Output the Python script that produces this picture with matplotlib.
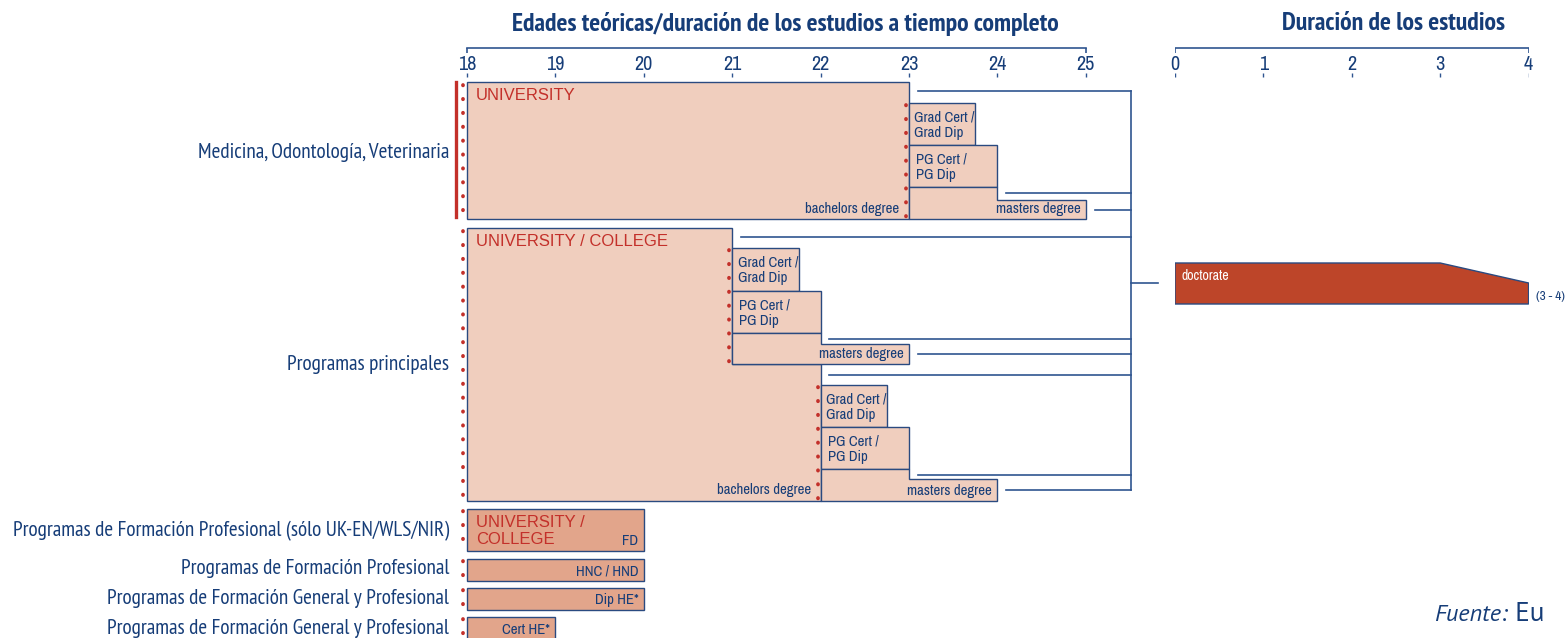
import matplotlib
matplotlib.use("Agg")
import matplotlib.pyplot as plt
from matplotlib.patches import Polygon, Rectangle

# --- data -------------------------------------------------------------
age_ticks = [18, 19, 20, 21, 22, 23, 24, 25]
dur_ticks = [0, 1, 2, 3, 4]

row_labels = ["Medicina, Odontología, Veterinaria",
              "Programas principales",
              "Programas de Formación Profesional (sólo UK-EN/WLS/NIR)",
              "Programas de Formación Profesional",
              "Programas de Formación General y Profesional",
              "Programas de Formación General y Profesional"]

start_age = 18
med_bachelor = 5            # years
main_bachelor = [3, 4]      # 3 or 4 year bachelors
grad_dur = 0.75             # Grad Cert / Grad Dip
pg_dur = 1                  # PG Cert / PG Dip
masters_dur = 2             # masters degree

short_names = ["FD", "HNC / HND", "Dip HE*", "Cert HE*"]
short_durations = [2, 2, 2, 1]

doc_min, doc_max = 3, 4

# --- style ------------------------------------------------------------
NAVY = "#163d78"
LINE = "#2f5590"
EDGE = "#2a4a80"
RED = "#c3302a"
LIGHT = "#f0cebe"
DARK = "#e2a58b"
DOC = "#bd4529"

COND = ["PT Sans Narrow", "Fira Sans Condensed", "Roboto Condensed", "DejaVu Sans"]
NARROW = ["Archivo Narrow", "Roboto Condensed", "Liberation Sans Narrow", "DejaVu Sans"]
PLAIN = ["Liberation Sans", "Arimo", "DejaVu Sans"]
SRC = ["PT Sans", "Fira Sans", "DejaVu Sans"]

W, H = 1565, 638
PX = 88.4          # pixels per year
X18 = 467          # pixel of age 18

fig = plt.figure(figsize=(W / 100, H / 100), dpi=100)
ax = fig.add_axes([0, 0, 1, 1])
ax.set_xlim(start_age - X18 / PX, start_age + (W - X18) / PX)
ax.set_ylim(H, 0)
ax.axis("off")

D0 = 1175
ax2 = fig.add_axes([D0 / W, 0, 4 * PX / W, 1])
ax2.set_xlim(0, 4)
ax2.set_ylim(H, 0)
ax2.axis("off")
ax2.patch.set_alpha(0)

small = dict(family=NARROW, fontsize=10.7, color=NAVY)
redtxt = dict(family=PLAIN, fontsize=12, color=RED)


def dots(a, x, y0, y1):
    a.plot([x, x], [y0, y1], color=RED, lw=2.7, ls=(0, (0.1, 3.6)),
           dash_capstyle="round", solid_capstyle="round")


def box(x0, x1, y0, y1, fc=LIGHT):
    ax.add_patch(Rectangle((x0, y0), x1 - x0, y1 - y0, fc=fc, ec=EDGE, lw=1))


def pg_stack(x0, gt, gb, pb, step, bottom):
    box(x0, x0 + grad_dur, gt, gb)
    ax.text(x0 + 0.06, (gt + gb) / 2 + 1, "Grad Cert /\nGrad Dip", va="center",
            linespacing=1.15, **small)
    box(x0, x0 + pg_dur, gb, pb)
    ax.text(x0 + 0.08, (gb + pb) / 2 + 1, "PG Cert /\nPG Dip", va="center",
            linespacing=1.15, **small)
    ax.add_patch(Polygon([(x0, pb), (x0 + pg_dur, pb), (x0 + pg_dur, step),
                          (x0 + masters_dur, step), (x0 + masters_dur, bottom),
                          (x0, bottom)], closed=True, fc=LIGHT, ec=EDGE, lw=1))
    ax.text(x0 + masters_dur - 0.06, bottom - 10, "masters degree", ha="right",
            va="center", **small)
    dots(ax, x0 - 0.035, gt + 2, bottom - 2)
    # ends that link to the right bracket
    return [(x0 + pg_dur, pb + 6), (x0 + masters_dur, (step + bottom) / 2)]


bracket_x = start_age + (1131 - X18) / PX
links = []

# --- top axes ---------------------------------------------------------
ax.plot([age_ticks[0], age_ticks[-1]], [48, 48], color=LINE, lw=1.2)
ax.vlines([age_ticks[0], age_ticks[-1]], 48, 53, color=LINE, lw=1.2)
ax.vlines(age_ticks, 73, 77, color=LINE, lw=1)
for t in age_ticks:
    ax.text(t, 64, str(t), ha="center", va="center", family=NARROW,
            fontsize=14.5, color=NAVY)
ax.text(start_age + (785 - X18) / PX, 24,
        "Edades teóricas/duración de los estudios a tiempo completo",
        ha="center", va="center", family=COND, fontsize=18.5,
        fontweight="bold", color=NAVY)

ax2.plot([dur_ticks[0], dur_ticks[-1]], [48, 48], color=LINE, lw=1.2)
ax2.vlines([dur_ticks[0], dur_ticks[-1]], 48, 53, color=LINE, lw=1.2)
ax2.vlines(dur_ticks, 73, 77, color=LINE, lw=1)
for t in dur_ticks:
    ax2.text(t, 64, str(t), ha="center", va="center", family=NARROW,
             fontsize=14.5, color=NAVY)
ax2.text(2.47, 24, "Duración de los estudios", ha="center", va="center",
         family=COND, fontsize=18.5, fontweight="bold", color=NAVY)

# --- Medicina ---------------------------------------------------------
med_end = start_age + med_bachelor
box(start_age, med_end, 82, 219)
ax.text(start_age + 0.1, 95, "UNIVERSITY", va="center", **redtxt)
ax.text(med_end - 0.11, 209, "bachelors degree", ha="right", va="center", **small)
ax.plot([start_age - 0.12] * 2, [82, 217], color=RED, lw=2.4)
dots(ax, start_age - 0.045, 85, 216)
links.append((med_end, 91))
links += pg_stack(med_end, 103, 145, 187, 200, 219)

# --- Programas principales -------------------------------------------
b3 = start_age + main_bachelor[0]
b4 = start_age + main_bachelor[1]
ax.add_patch(Polygon([(start_age, 228), (b3, 228), (b3, 364), (b4, 364),
                      (b4, 501), (start_age, 501)], closed=True,
                     fc=LIGHT, ec=EDGE, lw=1))
ax.text(start_age + 0.1, 241, "UNIVERSITY / COLLEGE", va="center", **redtxt)
ax.text(b4 - 0.11, 490, "bachelors degree", ha="right", va="center", **small)
dots(ax, start_age - 0.045, 231, 498)
links.append((b3, 237))
links += pg_stack(b3, 248, 291, 333, 344, 364)
links.append((b4, 375))
links += pg_stack(b4, 385, 427, 469, 479, 501)

for xe, y in links:
    ax.plot([xe + 0.1, bracket_x], [y, y], color=LINE, lw=1.2)
ax.plot([bracket_x, bracket_x], [91, 490], color=LINE, lw=1.2)
ax.plot([bracket_x, start_age + (1158 - X18) / PX], [283, 283], color=LINE, lw=1.2)

# --- short programmes -------------------------------------------------
short_rows = [(509, 551), (559, 581), (588, 610), (617, 640)]
for name, dur, (y0, y1) in zip(short_names, short_durations, short_rows):
    box(start_age, start_age + dur, y0, y1, fc=DARK)
    dots(ax, start_age - 0.045, y0 + 2, y1 - 1)
    ax.text(start_age + dur - 0.06, y1 - 10, name, ha="right", va="center", **small)
ax.text(start_age + 0.1, 531, "UNIVERSITY /\nCOLLEGE", va="center",
        linespacing=1.2, **redtxt)

# --- row labels -------------------------------------------------------
label_y = [152, 365, 531, 569, 599, 628]
for lab, y in zip(row_labels, label_y):
    ax.text(start_age - 0.2, y, lab, ha="right", va="center", family=COND,
            fontsize=15.3, color=NAVY)

# --- doctorate --------------------------------------------------------
ax2.add_patch(Polygon([(0, 263), (doc_min, 263), (doc_max, 283), (doc_max, 304),
                       (0, 304)], closed=True, fc=DOC, ec=EDGE, lw=1))
ax2.text(0.07, 276, "doctorate", va="center", family=NARROW, fontsize=10,
         color="white")
ax2.text(doc_max + 0.08, 297, f"({doc_min} - {doc_max})", va="center",
         family=NARROW, fontsize=9.5, color=NAVY, clip_on=False)
dots(ax2, -0.08, 265, 302)

# --- source -----------------------------------------------------------
src = fig.text(1434 / W, 1 - 621 / H, "Fuente:", ha="left", va="baseline",
               family=SRC, fontsize=17.5, style="italic", color=NAVY)
ax.annotate(" Eu", xy=(1, 0), xycoords=src, va="bottom", ha="left",
            family=SRC, fontsize=19.5, color=NAVY, annotation_clip=False)

fig.savefig("out.png", dpi=100)
